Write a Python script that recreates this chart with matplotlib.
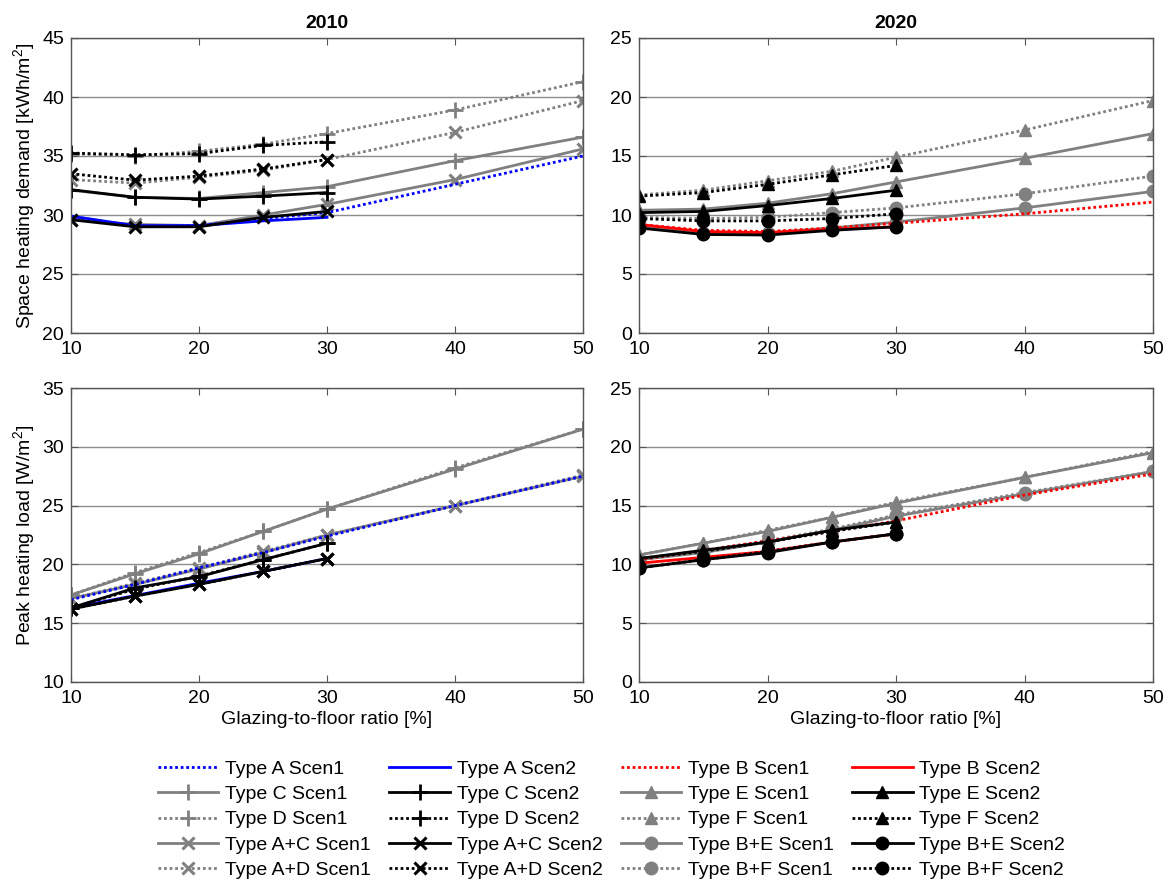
import matplotlib
matplotlib.use("Agg")
import matplotlib.pyplot as plt

plt.rcParams['font.family'] = ['Liberation Sans', 'DejaVu Sans']
plt.rcParams['mathtext.fontset'] = 'custom'
plt.rcParams['mathtext.rm'] = 'Liberation Sans'
plt.rcParams['mathtext.it'] = 'Liberation Sans'

x_full = [10, 15, 20, 25, 30, 40, 50]
x_short = [10, 15, 20, 25, 30]

# 2010 space heating demand [kWh/m2]
d10_A1 = [29.9, 29.0, 29.1, 29.7, 30.2, 32.6, 35.0]
d10_A2 = [29.9, 29.1, 29.1, 29.5, 29.8]
d10_C1 = [32.1, 31.5, 31.4, 31.9, 32.4, 34.6, 36.6]
d10_C2 = [32.15, 31.5, 31.35, 31.6, 31.9]
d10_D1 = [35.2, 35.0, 35.4, 36.0, 36.9, 38.9, 41.3]
d10_D2 = [35.25, 35.1, 35.2, 35.9, 36.2]
d10_AC1 = [29.6, 29.2, 29.1, 30.0, 30.9, 33.0, 35.6]
d10_AC2 = [29.6, 29.0, 29.0, 29.8, 30.3]
d10_AD1 = [33.0, 32.7, 33.2, 33.8, 34.7, 37.0, 39.7]
d10_AD2 = [33.5, 32.95, 33.3, 33.9, 34.7]

# 2020 space heating demand [kWh/m2]
d20_B1 = [9.2, 8.7, 8.6, 8.9, 9.3, 10.1, 11.1]
d20_B2 = [9.2, 8.6, 8.5, 8.8, 9.0]
d20_E1 = [10.4, 10.5, 11.0, 11.8, 12.8, 14.8, 16.9]
d20_E2 = [10.2, 10.3, 10.8, 11.4, 12.1]
d20_F1 = [11.7, 12.1, 12.9, 13.7, 14.9, 17.2, 19.7]
d20_F2 = [11.6, 11.9, 12.6, 13.4, 14.2]
d20_BE1 = [9.0, 8.5, 8.5, 8.9, 9.4, 10.6, 12.0]
d20_BE2 = [8.9, 8.35, 8.3, 8.7, 9.0]
d20_BF1 = [9.8, 9.7, 9.8, 10.2, 10.6, 11.8, 13.3]
d20_BF2 = [9.7, 9.5, 9.5, 9.7, 10.1]

# 2010 peak heating load [W/m2]
p10_A1 = [17.0, 18.3, 19.7, 21.0, 22.4, 25.0, 27.5]
p10_A2 = [16.3, 17.35, 18.4, 19.4, 20.5]
p10_C1 = [17.4, 19.2, 20.9, 22.8, 24.7, 28.1, 31.5]
p10_C2 = [16.3, 18.0, 18.95, 20.4, 21.8]
p10_D1 = [17.4, 19.3, 21.0, 22.8, 24.7, 28.2, 31.5]
p10_D2 = [16.3, 17.9, 19.0, 20.4, 21.8]
p10_AC1 = [17.1, 18.3, 19.6, 21.0, 22.5, 25.0, 27.5]
p10_AC2 = [16.2, 17.3, 18.3, 19.4, 20.5]
p10_AD1 = [17.1, 18.4, 19.7, 21.1, 22.5, 25.0, 27.6]
p10_AD2 = [16.2, 17.3, 18.3, 19.4, 20.5]

# 2020 peak heating load [W/m2]
p20_B1 = [10.4, 11.2, 12.0, 12.8, 13.7, 15.9, 17.7]
p20_B2 = [10.1, 10.6, 11.1, 11.9, 12.6]
p20_E1 = [10.8, 11.8, 12.8, 14.0, 15.2, 17.4, 19.5]
p20_E2 = [10.5, 11.2, 11.9, 12.9, 13.6]
p20_F1 = [10.8, 11.8, 12.9, 14.0, 15.3, 17.4, 19.6]
p20_F2 = [10.5, 11.1, 11.9, 12.8, 13.6]
p20_BE1 = [10.4, 11.0, 11.9, 12.9, 14.1, 16.0, 17.9]
p20_BE2 = [9.7, 10.4, 11.0, 11.9, 12.6]
p20_BF1 = [10.4, 11.1, 12.0, 13.0, 14.2, 16.1, 17.9]
p20_BF2 = [9.7, 10.4, 11.1, 11.9, 12.6]

GRAY = '#808080'
BLUE = '#0000ff'
RED = '#ff0000'
DOT = (0, (1, 1))

fig = plt.figure(figsize=(11.69, 8.81), dpi=100)
W, H = 1169, 881
def add_ax(l, r, t, b):
    return fig.add_axes([l / W, 1 - b / H, (r - l) / W, (b - t) / H])

ax_tl = add_ax(71, 583, 38, 333)
ax_tr = add_ax(639, 1153, 38, 333)
ax_bl = add_ax(71, 583, 388, 682)
ax_br = add_ax(639, 1153, 388, 682)

LW = 2.0

def styles_2010():
    return [
        ('Type A Scen1', BLUE, DOT, None, 'A1'),
        ('Type C Scen1', GRAY, '-', '+', 'C1'),
        ('Type D Scen1', GRAY, DOT, '+', 'D1'),
        ('Type A+C Scen1', GRAY, '-', 'x', 'AC1'),
        ('Type A+D Scen1', GRAY, DOT, 'x', 'AD1'),
        ('Type A Scen2', BLUE, '-', None, 'A2'),
        ('Type C Scen2', 'black', '-', '+', 'C2'),
        ('Type D Scen2', 'black', DOT, '+', 'D2'),
        ('Type A+C Scen2', 'black', '-', 'x', 'AC2'),
        ('Type A+D Scen2', 'black', DOT, 'x', 'AD2'),
    ]

def styles_2020():
    return [
        ('Type B Scen1', RED, DOT, None, 'B1'),
        ('Type E Scen1', GRAY, '-', '^', 'E1'),
        ('Type F Scen1', GRAY, DOT, '^', 'F1'),
        ('Type B+E Scen1', GRAY, '-', 'o', 'BE1'),
        ('Type B+F Scen1', GRAY, DOT, 'o', 'BF1'),
        ('Type B Scen2', RED, '-', None, 'B2'),
        ('Type E Scen2', 'black', '-', '^', 'E2'),
        ('Type F Scen2', 'black', DOT, '^', 'F2'),
        ('Type B+E Scen2', 'black', '-', 'o', 'BE2'),
        ('Type B+F Scen2', 'black', DOT, 'o', 'BF2'),
    ]

def msize(m):
    return {'+': 11, 'x': 8, '^': 9, 'o': 9}.get(m, 0)

def mew(m):
    return {'+': 2.0, 'x': 2.2}.get(m, 1.0)

data_d10 = dict(A1=d10_A1, A2=d10_A2, C1=d10_C1, C2=d10_C2, D1=d10_D1, D2=d10_D2,
                AC1=d10_AC1, AC2=d10_AC2, AD1=d10_AD1, AD2=d10_AD2)
data_p10 = dict(A1=p10_A1, A2=p10_A2, C1=p10_C1, C2=p10_C2, D1=p10_D1, D2=p10_D2,
                AC1=p10_AC1, AC2=p10_AC2, AD1=p10_AD1, AD2=p10_AD2)
data_d20 = dict(B1=d20_B1, B2=d20_B2, E1=d20_E1, E2=d20_E2, F1=d20_F1, F2=d20_F2,
                BE1=d20_BE1, BE2=d20_BE2, BF1=d20_BF1, BF2=d20_BF2)
data_p20 = dict(B1=p20_B1, B2=p20_B2, E1=p20_E1, E2=p20_E2, F1=p20_F1, F2=p20_F2,
                BE1=p20_BE1, BE2=p20_BE2, BF1=p20_BF1, BF2=p20_BF2)

def draw(ax, styles, data):
    handles = {}
    order = sorted(styles, key=lambda s: {GRAY: 0, BLUE: 1, RED: 1, 'black': 2}[s[1]])
    for label, color, ls, m, key in order:
        y = data[key]
        x = x_full if len(y) == 7 else x_short
        h, = ax.plot(x, y, color=color, linestyle=ls, lw=LW,
                     marker=m if m else None, ms=msize(m), mew=mew(m),
                     mfc=color, mec=color, label=label)
        handles[label] = h
    return [handles[s[0]] for s in styles]

h2010 = draw(ax_tl, styles_2010(), data_d10)
draw(ax_bl, styles_2010(), data_p10)
h2020 = draw(ax_tr, styles_2020(), data_d20)
draw(ax_br, styles_2020(), data_p20)

for ax, lim in [(ax_tl, (20, 45)), (ax_tr, (0, 25)), (ax_bl, (10, 35)), (ax_br, (0, 25))]:
    ax.set_xlim(10, 50)
    ax.set_ylim(*lim)
    ax.set_xticks([10, 20, 30, 40, 50])
    ax.set_yticks(range(lim[0], lim[1] + 1, 5))
    ax.yaxis.grid(True, color='#8c8c8c', lw=1.0)
    ax.set_axisbelow(True)
    ax.tick_params(direction='in', top=True, right=True, labelsize=14,
                   length=5, color='#555555')
    ax.tick_params(axis='x', pad=6)
    ax.tick_params(axis='y', pad=5)
    for sp in ax.spines.values():
        sp.set_color('#555555')
        sp.set_linewidth(1.0)

ax_tl.set_title('2010', fontsize=14, fontweight='bold', pad=7)
ax_tr.set_title('2020', fontsize=14, fontweight='bold', pad=7)
ax_tl.set_ylabel('Space heating demand [kWh/m$^2$]', fontsize=14)
ax_bl.set_ylabel('Peak heating load [W/m$^2$]', fontsize=14)
ax_bl.set_xlabel('Glazing-to-floor ratio [%]', fontsize=14, labelpad=3)
ax_br.set_xlabel('Glazing-to-floor ratio [%]', fontsize=14, labelpad=3)

handles = h2010 + h2020
leg = fig.legend(handles=handles, labels=[h.get_label() for h in handles],
                 ncol=4, loc='upper left', bbox_to_anchor=(158 / W, 1 - 760 / H),
                 frameon=False, fontsize=14, handlelength=3.1, handletextpad=0.35,
                 columnspacing=0.95, labelspacing=0.4, numpoints=1,
                 borderaxespad=0, borderpad=0)

fig.savefig('out.png', dpi=100)
